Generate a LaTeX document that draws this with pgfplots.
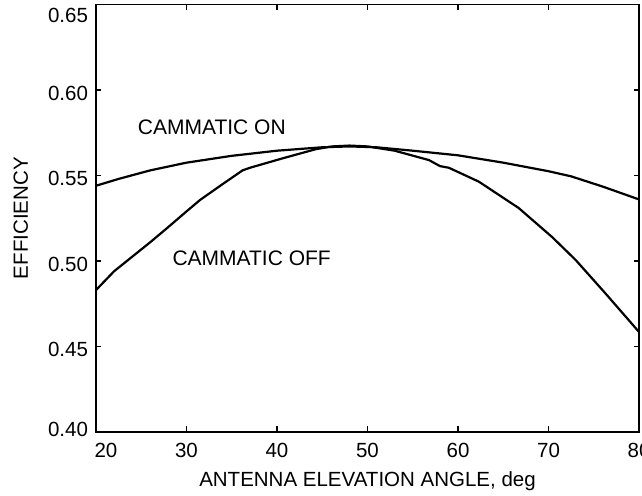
\documentclass[border=0pt]{standalone}
\usepackage{fontspec}
\setmainfont{Liberation Sans}
\usepackage{pgfplots}
\pgfplotsset{compat=1.18}

\begin{document}
\begin{tikzpicture}
\begin{axis}[
  scale only axis,
  width=543pt, height=427.5pt,
  xmin=20, xmax=80, ymin=0.40, ymax=0.65,
  xtick={20,30,...,80},
  ytick={0.40,0.45,...,0.65},
  yticklabel style={xshift=-4.5pt,
    yshift={ifthenelse(\ticknum==0,3,ifthenelse(\ticknum==5,-11.4,-3))*1pt},
    /pgf/number format/.cd, fixed, fixed zerofill, precision=2},
  /pgf/number format/assume math mode=true,
  tick align=inside,
  major tick length=5.5pt,
  tick style={line width=1.2pt, black},
  axis line style={line width=1.8pt},
  font=\fontsize{20.5}{24}\selectfont,
  xticklabel style={yshift=-8pt, xshift={ifthenelse(\ticknum==0,10,0)*1pt}},
  xlabel={ANTENNA ELEVATION ANGLE, deg},
  ylabel={EFFICIENCY},
  xlabel shift=7pt,
  ylabel shift=13pt,
  clip=false,
]
% cammatic on
\addplot[black, line width=2.2pt] coordinates {
  (20,0.544) (22.5,0.548) (26,0.553) (30,0.5575) (35,0.5615) (40,0.5645)
  (45,0.5665) (48,0.567) (51,0.5665) (55,0.5645) (60,0.5618) (65,0.5575)
  (70,0.5525) (72.5,0.5495) (76,0.5435) (80,0.536)
};
% cammatic off
\addplot[black, line width=2.2pt] coordinates {
  (20,0.483) (22,0.494) (24,0.5025) (26,0.511) (27.8,0.519) (30,0.529)
  (31.5,0.5357) (34,0.545) (36.2,0.553) (37,0.5545) (40.6,0.560) (44.3,0.5654)
  (46.1,0.567) (48,0.5675) (50,0.567) (53,0.5645) (56.8,0.559) (58,0.5555)
  (59,0.5545) (62.3,0.5464) (66.7,0.531) (70.4,0.514) (73,0.5006) (76.3,0.481)
  (80,0.4585)
};
\node[font=\fontsize{21}{24}\selectfont] at (axis cs:32.8,0.578) {CAMMATIC ON};
\node[font=\fontsize{21}{24}\selectfont] at (axis cs:37.2,0.5018) {CAMMATIC OFF};
\end{axis}
\pgfresetboundingbox
\path (current axis.south west) ++(-96pt,-64pt) rectangle ([xshift=3pt,yshift=4.5pt]current axis.north east);
\end{tikzpicture}
\end{document}
